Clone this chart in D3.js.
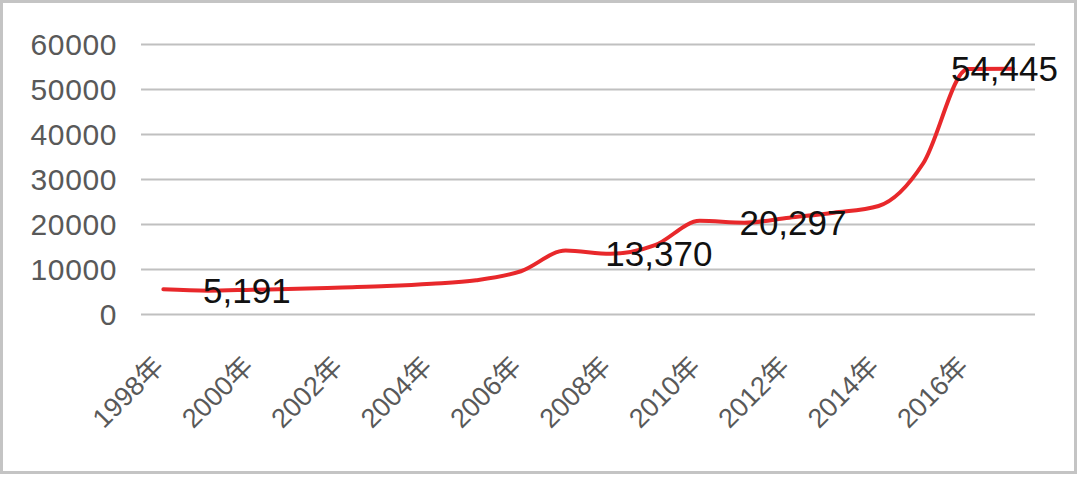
<!DOCTYPE html>
<html>
<head>
<meta charset="utf-8">
<script src="https://cdn.jsdelivr.net/npm/d3@7"></script>
<style>
  html, body { margin: 0; padding: 0; background: #fff; }
  svg { display: block; }
</style>
</head>
<body>
<svg id="chart" width="1080" height="478"></svg>
<script>
// ---- data ----
const years = ["1998年","1999年","2000年","2001年","2002年","2003年","2004年","2005年","2006年","2007年",
               "2008年","2009年","2010年","2011年","2012年","2013年","2014年","2015年","2016年","2017年"];
const values = [5500, 5191, 5400, 5600, 5900, 6200, 6700, 7500, 9500, 14100,
                13370, 15300, 20700, 20297, 21400, 22500, 24000, 33500, 54445, 54500];
const xTickLabels = ["1998年","2000年","2002年","2004年","2006年","2008年","2010年","2012年","2014年","2016年"];
const yTickValues = [0, 10000, 20000, 30000, 40000, 50000, 60000];
const labelYears = ["1999年","2008年","2011年","2016年"];

// ---- layout ----
const W = 1080, H = 478;
const plot = { left: 141, right: 1035, top: 44, bottom: 314 };
const FONT = "'Liberation Sans', Arial, 'Noto Sans CJK SC', sans-serif";

const svg = d3.select("#chart");

// chart border
svg.append("rect")
  .attr("x", 1.5).attr("y", 1.5)
  .attr("width", 1074).attr("height", 471)
  .attr("fill", "#fff")
  .attr("stroke", "#c4c4c4")
  .attr("stroke-width", 3);

const x = d3.scaleBand().domain(years).range([plot.left, plot.right]);
const xc = d => x(d) + x.bandwidth() / 2;
const y = d3.scaleLinear().domain([0, 60000]).range([plot.bottom, plot.top]);

// y axis with gridlines
const yAxis = svg.append("g")
  .attr("transform", `translate(${plot.left},0)`)
  .call(d3.axisLeft(y).tickValues(yTickValues).tickFormat(d3.format("d"))
        .tickSize(-(plot.right - plot.left)).tickPadding(24));
yAxis.select(".domain").remove();
yAxis.selectAll(".tick line").attr("stroke", "#c0c0c0").attr("stroke-width", 2.2);
yAxis.selectAll(".tick text")
  .attr("fill", "#595959")
  .style("font-family", FONT)
  .style("font-size", "30px")
  .style("letter-spacing", "0.6px")
  .attr("dy", "0.36em");

// x axis labels
const xAxis = svg.append("g")
  .attr("transform", `translate(0,${plot.bottom})`)
  .call(d3.axisBottom(x).tickValues(xTickLabels).tickSize(0));
xAxis.select(".domain").remove();
xAxis.selectAll(".tick text")
  .attr("fill", "#595959")
  .style("font-family", FONT)
  .style("font-size", "27px")
  .attr("text-anchor", "end")
  .attr("x", 0).attr("y", 0).attr("dy", 0)
  .attr("transform", "translate(2,54) rotate(-45)");

// line
const line = d3.line()
  .x((d, i) => xc(years[i]))
  .y(d => y(d))
  .curve(d3.curveMonotoneX);

svg.append("path")
  .datum(values)
  .attr("fill", "none")
  .attr("stroke", "#e8282b")
  .attr("stroke-width", 4)
  .attr("stroke-linecap", "round")
  .attr("stroke-linejoin", "round")
  .attr("d", line);

// data labels
const labels = svg.append("g").selectAll("text")
  .data(labelYears)
  .join("text")
  .attr("x", d => xc(d) - 5)
  .attr("y", d => y(values[years.indexOf(d)]))
  .attr("dy", "0.35em")
  .attr("text-anchor", "start")
  .attr("fill", "#111")
  .style("font-family", FONT)
  .style("font-size", "35px")
  .text(d => d3.format(",")(values[years.indexOf(d)]));

// keep labels inside chart area
labels.each(function() {
  const t = d3.select(this);
  const len = this.getComputedTextLength();
  const x0 = +t.attr("x");
  const maxRight = 1058;
  if (x0 + len > maxRight) t.attr("x", maxRight - len);
});
</script>
</body>
</html>
